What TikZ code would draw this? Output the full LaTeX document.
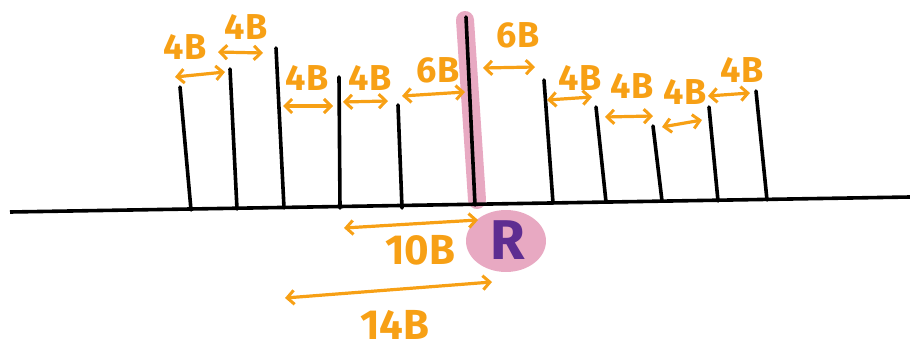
\documentclass[tikz,border=0pt]{standalone}
\usepackage{fontspec}
\setmainfont{Fira Sans}
\usetikzlibrary{arrows.meta}
\definecolor{orng}{HTML}{F7A015}
\definecolor{pinkhl}{HTML}{E8A9C2}
\definecolor{purp}{HTML}{5E2D91}
\tikzset{
  tick/.style={line width=3.6pt, line cap=round, black},
  dim/.style={line width=3.2pt, orng, line cap=round, {Straight Barb[length=7pt,width=14pt,line width=3pt]}-{Straight Barb[length=7pt,width=14pt,line width=3pt]}},
  lab/.style={orng, font=\fontsize{36}{36}\selectfont\bfseries, inner sep=0pt},
  biglab/.style={orng, font=\fontsize{42}{42}\selectfont\bfseries, inner sep=0pt},
}
\begin{document}
\begin{tikzpicture}[x=1pt,y=-1pt]
\useasboundingbox (0,0) rectangle (910,350);
% pink highlights
\draw[pinkhl, line width=18pt, line cap=round] (465,20) -- (477,200);
\fill[pinkhl] (506,241) ellipse [x radius=40, y radius=31];
% baseline
\draw[line width=3.6pt] (10,212) -- (910,197);
% ticks
\draw[tick] (180,87) -- (191,210);
\draw[tick] (230,69) -- (237,209);
\draw[tick] (276,48) -- (284,208);
\draw[tick] (339,77) -- (340,208);
\draw[tick] (398,105) -- (402,208);
\draw[tick] (466,17) -- (475,205);
\draw[tick] (544,80) -- (553,203);
\draw[tick] (596,107) -- (606,202);
\draw[tick] (653,126) -- (662,201);
\draw[tick] (709,107) -- (718,201);
\draw[tick] (756,91) -- (767,200);
% R
\node[purp, font=\fontsize{56}{56}\selectfont\bfseries, inner sep=0pt] (r) at (508,240) {R};
% top dimension arrows
\draw[dim] (175,77) -- (225,72);
\node[lab] (l1) at (185,47) {4B};
\draw[dim] (218,52) -- (263,53);
\node[lab] (l2) at (246,27) {4B};
\draw[dim] (283,106) -- (333,106);
\node[lab] (l3) at (307,78) {4B};
\draw[dim] (343,102) -- (388,101);
\node[lab] (l4) at (370,78) {4B};
\draw[dim] (402,96) -- (465,92);
\node[lab] (l5) at (438,70) {6B};
\draw[dim] (483,68) -- (535,67);
\node[lab] (l6) at (518,35) {6B};
\draw[dim] (547,100) -- (592,97);
\node[lab] (l7) at (580,78) {4B};
\draw[dim] (605,117) -- (653,116);
\node[lab] (l8) at (632,86) {4B};
\draw[dim] (662,127) -- (702,120);
\node[lab] (l9) at (685,92) {4B};
\draw[dim] (708,96) -- (750,93);
\node[lab] (l10) at (742,70) {4B};
% bottom arrows
\draw[dim] (344,228) -- (478,220);
\node[biglab] (l11) at (420,250) {10B};
\draw[dim] (285,298) -- (492,282);
\node[biglab] (l12) at (395,325) {14B};
\end{tikzpicture}
\end{document}
